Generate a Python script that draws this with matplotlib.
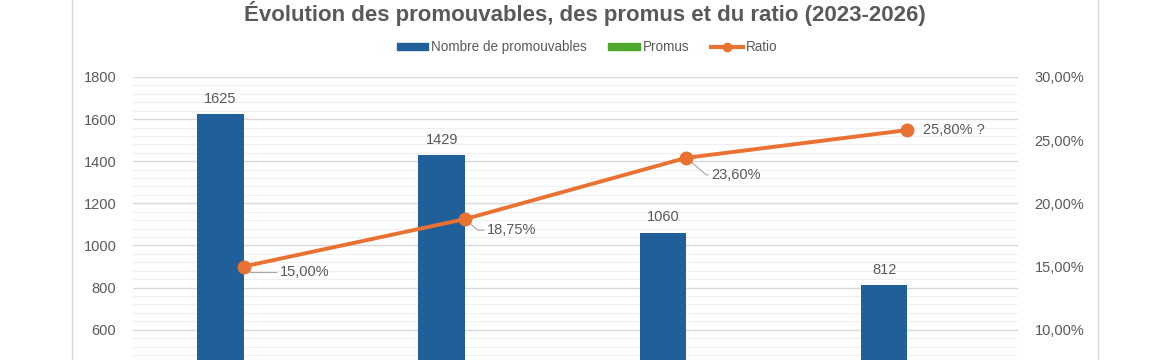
import matplotlib
matplotlib.use("Agg")
import matplotlib.pyplot as plt
from matplotlib.patches import Patch
from matplotlib.lines import Line2D
from matplotlib.ticker import MultipleLocator, FuncFormatter

annees = ["2023", "2024", "2025", "2026"]
promouvables = [1625, 1429, 1060, 812]
promus = [244, 268, 250, 209]
ratio = [15.00, 18.75, 23.60, 25.80]
ratio_labels = ["15,00%", "18,75%", "23,60%", "25,80% ?"]

BLEU = "#215F9A"
VERT = "#4EA72E"
ORANGE = "#E97132"
GRIS = "#595959"

plt.rcParams["font.family"] = ["Liberation Sans", "DejaVu Sans"]

fig = plt.figure(figsize=(11.7, 3.6), dpi=100)
ax = fig.add_axes([133 / 1170, 1 - 456 / 360, 885 / 1170, 379 / 360])
ax2 = ax.twinx()

x = list(range(len(annees)))
w = 0.21
bars = ax.bar([i - w / 2 for i in x], promouvables, width=w, color=BLEU, zorder=3)
ax.bar([i + w / 2 for i in x], promus, width=w, color=VERT, zorder=3)
ax.bar_label(bars, labels=[str(v) for v in promouvables], padding=6,
             fontsize=10.5, color=GRIS)

ax.set_xlim(-0.5, 3.5)
ax.set_ylim(0, 1800)
# seules les graduations visibles dans la zone coupée
ax.set_yticks(range(600, 1801, 200))
ax.yaxis.set_minor_locator(MultipleLocator(40))
ax.grid(axis="y", which="major", color="#D9D9D9", lw=1.0, zorder=0)
ax.grid(axis="y", which="minor", color="#F0F0F0", lw=0.8, zorder=0)
ax.set_axisbelow(True)
ax.set_xticks([])
ax.tick_params(axis="y", length=0, pad=12, labelsize=10.5, labelcolor=GRIS, which="both")
for s in ax.spines.values():
    s.set_visible(False)

ax2.plot(x, ratio, color=ORANGE, lw=2.8, marker="o", ms=9, zorder=4)
ax2.set_ylim(0, 30)
ax2.set_yticks(range(10, 31, 5))
ax2.yaxis.set_major_formatter(FuncFormatter(lambda v, p: f"{v:.2f}%".replace(".", ",")))
ax2.tick_params(axis="y", length=0, pad=12, labelsize=10.5, labelcolor=GRIS)
for s in ax2.spines.values():
    s.set_visible(False)

offsets = [(36, -6), (22, -11), (25, -17), (16, 0)]
for i, (v, lab) in enumerate(zip(ratio, ratio_labels)):
    dx, dy = offsets[i]
    arrow = None
    if i < 3:
        arrow = dict(arrowstyle="-", color="#A6A6A6", lw=0.8, shrinkA=0, shrinkB=4,
                     relpos=(0, 0.5), connectionstyle="angle,angleA=0,angleB=-40,rad=0")
    ax2.annotate(lab, (i, v), xytext=(dx, dy), textcoords="offset pixels",
                 ha="left", va="center", fontsize=10.5, color=GRIS, arrowprops=arrow)

# cadre du graphique
for xf in (72 / 1170, 1098 / 1170):
    fig.add_artist(Line2D([xf, xf], [0, 1], color="#D9D9D9", lw=1))

fig.text(585 / 1170, 1 - 14 / 360, "Évolution des promouvables, des promus et du ratio (2023-2026)",
         ha="center", va="center", fontsize=16, fontweight="bold", color=GRIS)

handles = [Patch(color=BLEU), Patch(color=VERT),
           Line2D([], [], color=ORANGE, lw=3, marker="o", ms=6)]
fig.legend(handles, ["Nombre de promouvables", "Promus", "Ratio"], loc="center",
           bbox_to_anchor=(587 / 1170, 1 - 47 / 360), ncol=3, frameon=False,
           fontsize=9.75, labelcolor=GRIS, handlelength=2.35, handleheight=0.4,
           handletextpad=0.2, columnspacing=1.6)

fig.savefig("out.png", dpi=100)
